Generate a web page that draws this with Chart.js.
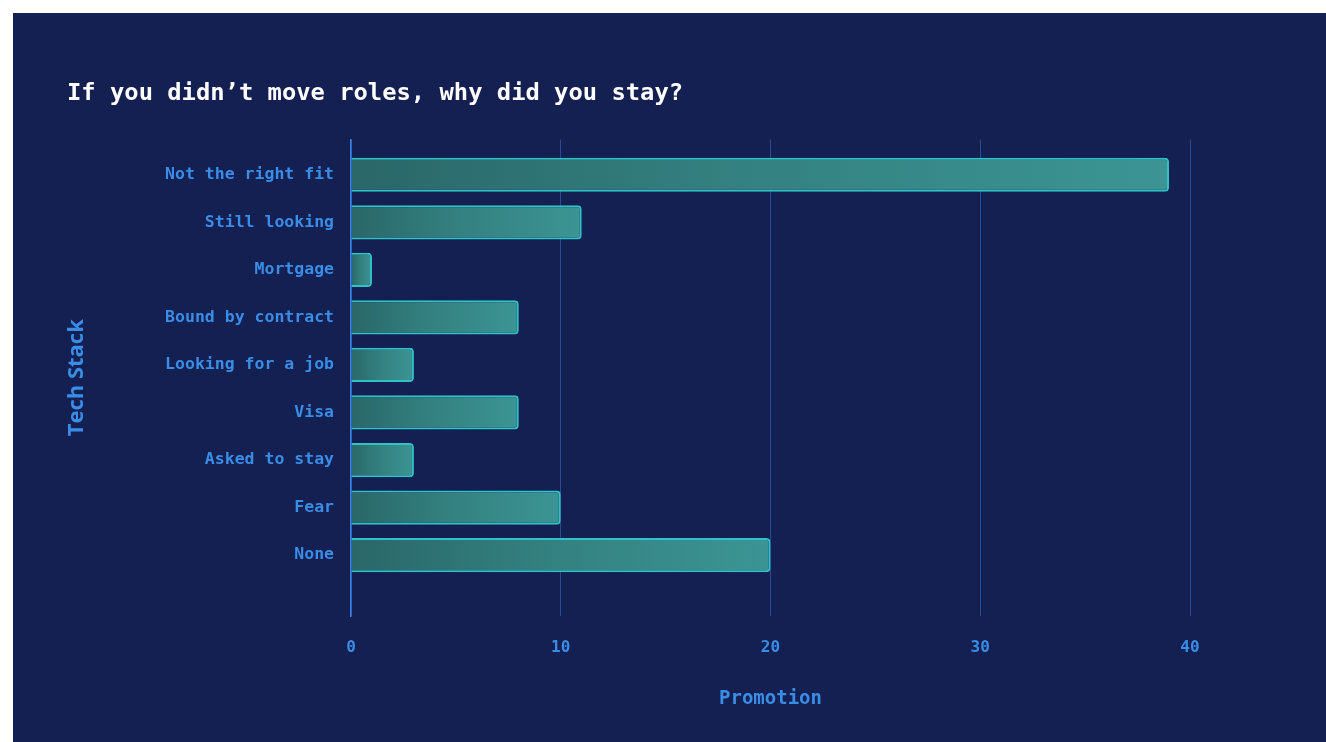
<!DOCTYPE html>
<html>
<head>
<meta charset="utf-8">
<script src="https://cdn.jsdelivr.net/npm/chart.js@4"></script>
<style>
  html, body { margin: 0; padding: 0; background: #ffffff; }
  .card {
    position: absolute;
    left: 13px;
    top: 13px;
    width: 1313px;
    height: 729px;
    background: #141f52;
  }
</style>
</head>
<body>
<div class="card"><canvas id="myChart" width="1313" height="729"></canvas></div>
<script>
const labels = [
  "Not the right fit",
  "Still looking",
  "Mortgage",
  "Bound by contract",
  "Looking for a job",
  "Visa",
  "Asked to stay",
  "Fear",
  "None",
];
const counts = [39, 11, 1, 8, 3, 8, 3, 10, 20];
const xTicks = [0, 10, 20, 30, 40];

const mono = "'DejaVu Sans Mono', 'Liberation Mono', monospace";
const blue = "#3a8de6";

// gradient from the axis to the end of each bar
function barFill(context) {
  const chart = context.chart;
  const x = chart.scales.x;
  if (!chart.chartArea || !x) return "#348585";
  const x0 = x.getPixelForValue(0);
  const x1 = x.getPixelForValue(context.raw || 0);
  const g = chart.ctx.createLinearGradient(x0, 0, Math.max(x1, x0 + 1), 0);
  g.addColorStop(0, "#2a6769");
  g.addColorStop(0.45, "#33807f");
  g.addColorStop(1, "#3b9594");
  return g;
}

const ctx = document.getElementById("myChart").getContext("2d");

const config = {
  type: "bar",
  data: {
    labels,
    datasets: [
      {
        data: counts,
        backgroundColor: barFill,
        borderColor: "#2fc2c6",
        borderWidth: 2,
        borderRadius: 4,
        borderSkipped: "start",
        categoryPercentage: 0.8,
        barPercentage: 0.9,
      },
    ],
  },
  options: {
    indexAxis: "y",
    responsive: false,
    animation: false,
    layout: {
      padding: { left: 54, right: 136, top: 0, bottom: 32 },
    },
    plugins: {
      legend: { display: false },
      tooltip: { enabled: false },
      title: {
        display: true,
        text: "If you didn\u2019t move roles, why did you stay?",
        align: "start",
        color: "#ffffff",
        font: { family: mono, size: 23.8, weight: "bold" },
        padding: { top: 67, bottom: 31 },
      },
    },
    scales: {
      x: {
        min: 0,
        max: 40,
        afterBuildTicks: (scale) => {
          scale.ticks = xTicks.map((v) => ({ value: v }));
        },
        grid: {
          color: "rgba(58, 120, 220, 0.5)",
          lineWidth: 1,
          drawTicks: false,
        },
        border: { display: false },
        ticks: {
          color: blue,
          padding: 22,
          font: { family: mono, size: 16, weight: "bold" },
        },
        title: {
          display: true,
          text: "Promotion",
          color: blue,
          padding: { top: 8, bottom: 0 },
          font: { family: mono, size: 19, weight: "bold" },
        },
      },
      y: {
        afterBuildTicks: (scale) => {
          // leave a little room above the first bar and more below the last
          scale._startValue = -0.74;
          scale._valueRange = 10.02;
        },
        afterFit: (scale) => {
          scale.width = 284;
        },
        grid: { display: false },
        border: { display: true, color: "#3a82e0", width: 1.5 },
        ticks: {
          color: blue,
          padding: 9,
          font: { family: mono, size: 16.5, weight: "bold" },
        },
        title: {
          display: true,
          text: "Tech Stack",
          color: blue,
          padding: { top: -3, bottom: 0 },
          font: { family: "'Open Sans', 'Noto Sans', sans-serif", size: 22, weight: "bold" },
        },
      },
    },
  },
};

const myChart = new Chart(ctx, config);
</script>
</body>
</html>
